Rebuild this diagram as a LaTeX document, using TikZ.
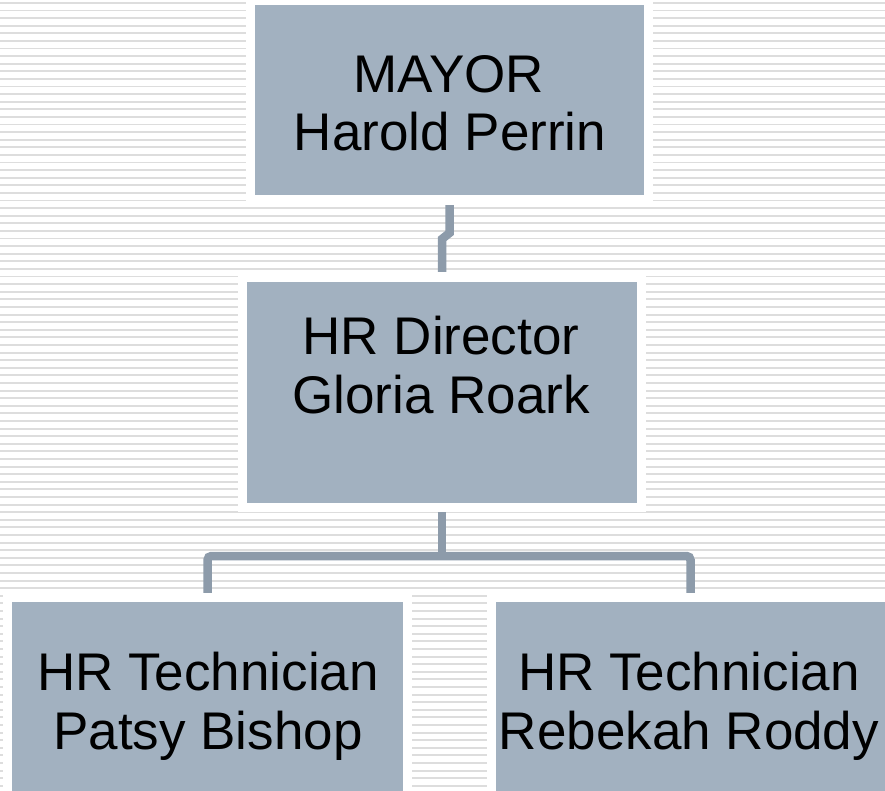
\documentclass[tikz,border=0pt]{standalone}
\usepackage{fontspec}
\setmainfont{Liberation Sans}
\definecolor{boxfill}{HTML}{A2B1C0}
\definecolor{connc}{HTML}{8D9BAA}
\definecolor{stripe}{HTML}{DDDDDD}
\tikzset{
  orgbox/.style={draw=none, fill=boxfill, rectangle, inner sep=0pt},
  conn/.style={draw=connc, line width=8.5pt},
  lbl/.style={anchor=base, inner sep=0pt, font=\fontsize{53pt}{59pt}\selectfont, text=black},
  gap/.style={fill=white, draw=none}
}
\begin{document}
\begin{tikzpicture}[x=1pt, y=-1pt]
\useasboundingbox (0,0) rectangle (885,791);
\fill[white] (0,0) rectangle (885,791);
% striped background
\foreach \i in {0,...,104} {
  \fill[stripe] (0,{2.0+7.6*\i}) rectangle (885,{3.9+7.6*\i});
}
% white margins around boxes
\fill[gap] (246,-5) rectangle (653,204);
\fill[gap] (238,273) rectangle (646,512);
\fill[gap] (3,593) rectangle (412,800);
\fill[gap] (487,593) rectangle (890,800);
% boxes
\node[orgbox, minimum width=389pt, minimum height=190pt] (mayor) at (449.5,100) {};
\node[orgbox, minimum width=390pt, minimum height=221pt] (dir) at (442,392.5) {};
\node[orgbox, minimum width=391pt, minimum height=189pt] (pb) at (207.5,696.5) {};
\node[orgbox, minimum width=389pt, minimum height=189pt] (rr) at (690.5,696.5) {};
% connectors
\coordinate (j1) at (449.5,233);
\coordinate (j2) at (442,239);
\coordinate (bar) at (0,556);
\draw[conn] ([yshift=-10pt]mayor.south) -- (j1) -- (j2) -- ([yshift=10pt]dir.north);
\draw[conn] ([yshift=-9pt]dir.south) -- (dir.south |- bar);
\draw[conn, rounded corners=4pt] ([yshift=9pt]pb.north) -- (pb.north |- bar) -- (rr.north |- bar) -- ([yshift=9pt]rr.north);
% texts
\node[lbl] (mayorA) at (449,93) {MAYOR};
\node[lbl] (mayorB) at (450,151) {Harold Perrin};
\node[lbl] (dirA) at (441,354) {HR Director};
\node[lbl] (dirB) at (441,413) {Gloria Roark};
\node[lbl] (pbA) at (208,690) {HR Technician};
\node[lbl] (pbB) at (208,749) {Patsy Bishop};
\node[lbl] (rrA) at (689,690) {HR Technician};
\node[lbl] (rrB) at (689,749) {Rebekah Roddy};
\end{tikzpicture}
\end{document}
